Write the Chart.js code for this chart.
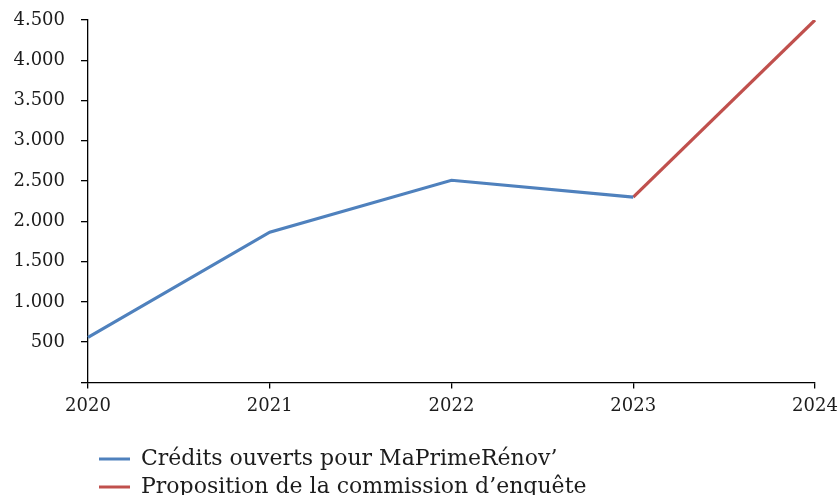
<!DOCTYPE html>
<html>
<head>
<meta charset="utf-8">
<script src="https://cdn.jsdelivr.net/npm/chart.js@4"></script>
<style>
  html, body { margin: 0; padding: 0; background: #fff; }
  #wrap { width: 838px; height: 495px; }
</style>
</head>
<body>
<div id="wrap"><canvas id="c" width="838" height="495"></canvas></div>
<script>
const years = ['2020', '2021', '2022', '2023', '2024'];
const creditsOuverts = [560, 1865, 2510, 2300, null];
const propositionCommission = [null, null, null, 2300, 4500];
const seriesNames = ['Crédits ouverts pour MaPrimeRénov’', 'Proposition de la commission d’enquête'];
const yTicks = [0, 500, 1000, 1500, 2000, 2500, 3000, 3500, 4000, 4500];

const FONT = 'DejaVu Serif';
const TEXT = '#1c1c1c';

function fmt(v) {
  if (v === 0) return '';
  const s = String(v);
  return s.length > 3 ? s.slice(0, s.length - 3) + '.' + s.slice(-3) : s;
}

const legendShift = {
  id: 'legendShift',
  afterLayout(chart) {
    const lg = chart.legend;
    if (lg) { lg.left = 93; lg.top += 13; lg.bottom += 13; }
  }
};

new Chart(document.getElementById('c'), {
  type: 'line',
  data: {
    labels: years,
    datasets: [
      { label: seriesNames[0], data: creditsOuverts, borderColor: '#4F81BD', backgroundColor: '#4F81BD', borderWidth: 3.2, pointRadius: 0, tension: 0, spanGaps: false },
      { label: seriesNames[1], data: propositionCommission, borderColor: '#C0504D', backgroundColor: '#C0504D', borderWidth: 3.2, pointRadius: 0, tension: 0, spanGaps: false }
    ]
  },
  options: {
    responsive: false,
    animation: false,
    layout: { padding: { top: 20, right: 23, left: 0, bottom: 0 } },
    plugins: {
      tooltip: { enabled: false },
      legend: {
        position: 'bottom',
        align: 'start',
        labels: {
          boxWidth: 31,
          boxHeight: 3,
          padding: 6,
          color: TEXT,
          font: { family: FONT, size: 22 },
          generateLabels(chart) {
            return Chart.defaults.plugins.legend.labels.generateLabels(chart).map(l => Object.assign(l, { lineWidth: 0 }));
          }
        }
      }
    },
    scales: {
      x: {
        offset: false,
        afterFit(scale) { scale.height += 5; scale.paddingLeft = 0; scale.paddingRight = 0; },
        border: { display: true, color: '#000', width: 1.3 },
        grid: { display: true, drawOnChartArea: false, drawTicks: true, tickLength: 6, color: '#000', lineWidth: 1.3 },
        ticks: { color: TEXT, font: { family: FONT, size: 18 }, padding: 7, maxRotation: 0 }
      },
      y: {
        min: 0,
        max: 4500,
        afterBuildTicks(scale) { scale.ticks = yTicks.map(v => ({ value: v })); },
        afterFit(scale) { scale.width = 88; scale.paddingTop = 0; scale.paddingBottom = 0; },
        border: { display: true, color: '#000', width: 1.3 },
        grid: { display: true, drawOnChartArea: false, drawTicks: true, tickLength: 7, color: '#000', lineWidth: 1.3 },
        ticks: { color: TEXT, font: { family: FONT, size: 18 }, padding: 16, callback: (v) => fmt(v) }
      }
    }
  },
  plugins: [legendShift]
});
</script>
</body>
</html>
